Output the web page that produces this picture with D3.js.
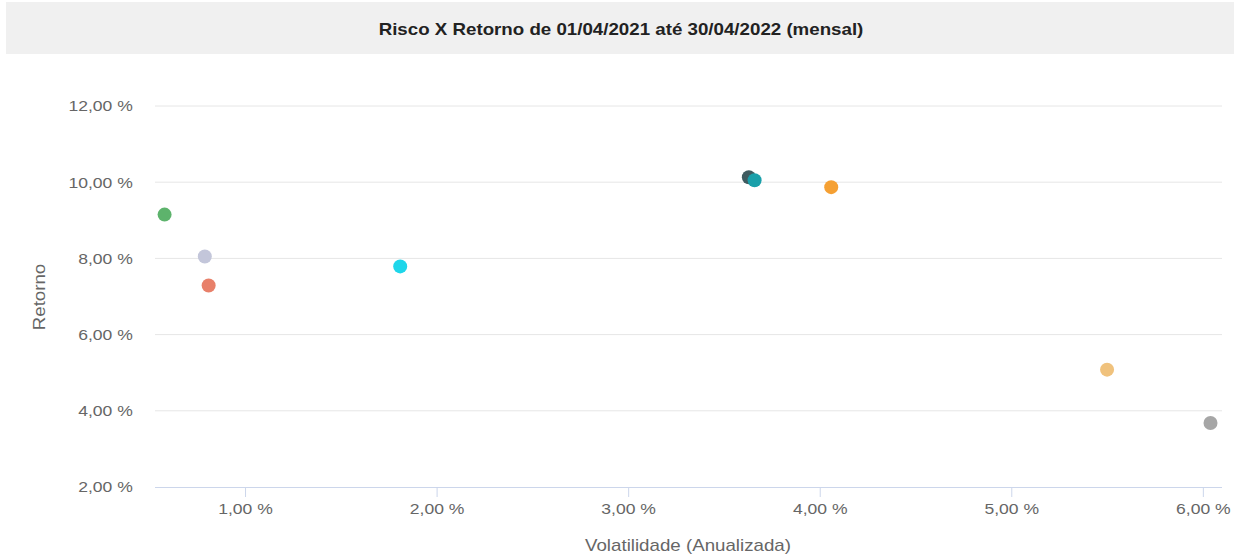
<!DOCTYPE html>
<html><head><meta charset="utf-8">
<script src="https://cdn.jsdelivr.net/npm/d3@7"></script>
<style>body{margin:0;background:#fff;font-family:"Liberation Sans",Arial,sans-serif;}</style>
</head><body>
<svg id="c" width="1234" height="556"></svg>
<script>
const titleText = "Risco X Retorno de 01/04/2021 até 30/04/2022 (mensal)";
const xTitle = "Volatilidade (Anualizada)";
const yTitle = "Retorno";
const volatility = [0.58, 0.79, 0.81, 1.81, 3.63, 3.66, 4.06, 5.50, 6.04];
const returns = [9.15, 8.05, 7.29, 7.79, 10.13, 10.05, 9.87, 5.08, 3.68];
const colors = ["#5db36c", "#c3c6da", "#e8806a", "#1ed6ea", "#3f5b60", "#1aa0aa", "#f5a033", "#f0c27d", "#a6a6a6"];
const xTicks = [1, 2, 3, 4, 5, 6];
const yTicks = [2, 4, 6, 8, 10, 12];

const SX = 1.17; // horizontal stretch of text seen in the reference
const svg = d3.select("#c");
const fmt = v => d3.format(".2f")(v).replace(".", ",") + " %";

svg.append("rect").attr("x", 6).attr("y", 2).attr("width", 1228).attr("height", 52).attr("fill", "#f0f0f0");
svg.append("text").attr("transform", `translate(621,35) scale(${SX},1)`).attr("text-anchor", "middle")
  .attr("font-size", 16).attr("font-weight", "bold").attr("fill", "#222").text(titleText);

const x = d3.scaleLinear().domain([0.53, 6.10]).range([155, 1222]);
const y = d3.scaleLinear().domain([2, 12]).range([487, 106]);

// grid
svg.append("g").selectAll("line").data(yTicks.filter(d => d !== 2)).join("line")
  .attr("x1", 155).attr("x2", 1222).attr("y1", d => y(d)).attr("y2", d => y(d))
  .attr("stroke", "#e6e6e6").attr("stroke-width", 1);

// y axis
const ya = svg.append("g").attr("transform", "translate(155,0)")
  .call(d3.axisLeft(y).tickValues(yTicks).tickFormat(fmt).tickSize(0).tickPadding(19));
ya.select(".domain").remove();
ya.selectAll("text").attr("font-size", 15).attr("fill", "#666")
  .attr("font-family", "Liberation Sans, Arial, sans-serif").attr("transform", `scale(${SX},1)`);

// x axis
const xa = svg.append("g").attr("transform", "translate(0,487)")
  .call(d3.axisBottom(x).tickValues(xTicks).tickFormat(fmt).tickSize(10).tickPadding(6));
xa.select(".domain").attr("stroke", "#ccd6eb").attr("d", "M155,0.5H1222");
xa.selectAll(".tick line").attr("stroke", "#ccd6eb");
xa.selectAll("text").attr("font-size", 15).attr("fill", "#666")
  .attr("font-family", "Liberation Sans, Arial, sans-serif").attr("transform", `scale(${SX},1)`);

svg.append("text").attr("transform", `translate(688,551) scale(${SX},1)`).attr("text-anchor", "middle")
  .attr("font-size", 16).attr("fill", "#666").text(xTitle);
svg.append("text").attr("transform", `translate(45,297) rotate(-90) scale(${SX},1)`).attr("text-anchor", "middle")
  .attr("font-size", 16).attr("fill", "#666").text(yTitle);

svg.append("g").selectAll("circle").data(volatility.map((v, i) => ({v, r: returns[i], c: colors[i]}))).join("circle")
  .attr("cx", d => x(d.v)).attr("cy", d => y(d.r)).attr("r", 7).attr("fill", d => d.c);
</script>
</body></html>
